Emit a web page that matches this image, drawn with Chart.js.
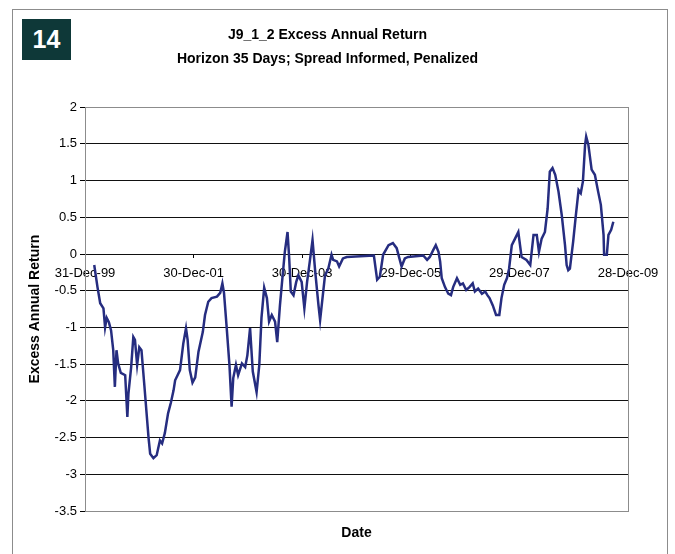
<!DOCTYPE html>
<html>
<head>
<meta charset="utf-8">
<script src="https://cdn.jsdelivr.net/npm/chart.js@4.4.1/dist/chart.umd.min.js"></script>
<style>
    body { margin:0; background:#fff; }
    #marco { position:absolute; left:12px; top:9px; width:654px; height:560px; border:1px solid #8c8c8c; }
    #caja { position:absolute; left:0; top:0; width:675px; height:554px; }
    #num { position:absolute; left:22px; top:19px; width:49px; height:41px; background:#0e3838; color:#fff;
           font:bold 25px "Liberation Sans", Arial, sans-serif; display:flex; align-items:center; justify-content:center; }
</style>
</head>
<body>
<div id="marco"></div>
<div id="caja"><canvas id="grafico" width="675" height="554"></canvas></div>
<div id="num">14</div>
<script>
// anios desde 31-Dec-99
const fechas = [0.17,0.23,0.28,0.34,0.37,0.40,0.44,0.48,0.52,0.55,
    0.58,0.61,0.66,0.74,0.78,0.80,0.85,0.89,0.92,0.96,
    1.00,1.04,1.09,1.17,1.20,1.26,1.32,1.38,1.42,1.47,
    1.53,1.58,1.63,1.66,1.75,1.81,1.86,1.89,1.93,1.98,
    2.03,2.09,2.17,2.21,2.27,2.33,2.43,2.49,2.53,2.56,
    2.61,2.66,2.70,2.73,2.78,2.82,2.89,2.95,2.99,3.04,
    3.09,3.16,3.21,3.25,3.30,3.35,3.39,3.44,3.50,3.54,
    3.59,3.64,3.68,3.73,3.76,3.79,3.84,3.89,3.93,3.99,
    4.04,4.09,4.14,4.19,4.24,4.30,4.33,4.38,4.42,4.48,
    4.54,4.57,4.64,4.68,4.75,4.82,5.32,5.38,5.43,5.49,
    5.59,5.67,5.74,5.79,5.83,5.89,5.95,6.23,6.30,6.35,
    6.41,6.46,6.51,6.54,6.57,6.63,6.69,6.74,6.78,6.85,
    6.91,6.96,7.02,7.08,7.14,7.18,7.24,7.31,7.37,7.41,
    7.45,7.51,7.57,7.63,7.67,7.72,7.77,7.81,7.86,7.92,
    7.98,8.04,8.13,8.20,8.26,8.32,8.36,8.41,8.47,8.52,
    8.56,8.61,8.66,8.72,8.78,8.84,8.87,8.90,8.93,8.99,
    9.04,9.09,9.13,9.17,9.21,9.23,9.27,9.33,9.39,9.45,
    9.50,9.55,9.56,9.61,9.64,9.69,9.73]

const valores = [-0.15,-0.45,-0.67,-0.74,-1.00,-0.87,-0.93,-1.04,-1.31,-1.81,
    -1.31,-1.49,-1.62,-1.65,-2.22,-1.90,-1.54,-1.13,-1.17,-1.51,
    -1.27,-1.31,-1.76,-2.50,-2.72,-2.78,-2.74,-2.54,-2.58,-2.44,
    -2.17,-2.03,-1.86,-1.72,-1.58,-1.22,-1.01,-1.17,-1.58,-1.75,
    -1.68,-1.33,-1.06,-0.83,-0.65,-0.60,-0.58,-0.53,-0.40,-0.53,
    -1.01,-1.51,-2.08,-1.69,-1.51,-1.65,-1.49,-1.54,-1.38,-1.01,
    -1.60,-1.88,-1.51,-0.87,-0.46,-0.60,-0.92,-0.83,-0.92,-1.20,
    -0.70,-0.29,0.03,0.30,-0.05,-0.51,-0.56,-0.38,-0.29,-0.38,
    -0.74,-0.38,-0.10,0.19,-0.24,-0.70,-0.90,-0.56,-0.29,-0.20,
    -0.01,-0.08,-0.10,-0.17,-0.06,-0.04,-0.02,-0.35,-0.31,-0.01,
    0.12,0.15,0.08,-0.06,-0.17,-0.06,-0.04,-0.02,-0.08,-0.04,
    0.05,0.12,0.03,-0.10,-0.33,-0.45,-0.54,-0.56,-0.45,-0.33,
    -0.42,-0.40,-0.49,-0.45,-0.40,-0.51,-0.47,-0.54,-0.51,-0.56,
    -0.60,-0.70,-0.83,-0.83,-0.60,-0.42,-0.33,-0.20,0.12,0.21,
    0.30,-0.04,-0.08,-0.15,0.26,0.26,0.03,0.21,0.30,0.62,
    1.12,1.17,1.08,0.85,0.53,0.12,-0.15,-0.22,-0.20,0.17,
    0.53,0.87,0.83,0.99,1.49,1.60,1.49,1.15,1.08,0.85,
    0.67,0.26,-0.01,-0.01,0.26,0.33,0.44]

const etiquetasX = ['31-Dec-99','30-Dec-01','30-Dec-03','29-Dec-05','29-Dec-07','28-Dec-09']

const titulo = ['J9_1_2 Excess Annual Return', 'Horizon 35 Days; Spread Informed, Penalized']

Chart.defaults.font.family = '"Liberation Sans", Arial, sans-serif'
Chart.defaults.color = '#000'

// borde gris del area del grafico
const bordePlot = {
    id: 'bordePlot',
    beforeDatasetsDraw(chart) {
        const {ctx, chartArea: a} = chart
        ctx.save()
        ctx.strokeStyle = '#8c8c8c'
        ctx.lineWidth = 1
        ctx.strokeRect(Math.round(a.left) + 0.5, Math.round(a.top) + 0.5, Math.round(a.right - a.left), Math.round(a.bottom - a.top))
        ctx.restore()
    }
}

const ctx = document.getElementById('grafico').getContext('2d')

const data = {
    datasets: [{
        label: 'Excess Annual Return',
        data: fechas.map((f, i) => ({x: f, y: valores[i]})),
        borderColor: '#262d80',
        borderWidth: 2.5,
        pointRadius: 0,
        tension: 0,
        xAxisID: 'x',
        yAxisID: 'y'
    }]
}

const options = {
    responsive: false,
    animation: false,
    layout: { padding: {top: 10, left: 27, right: 47, bottom: 12} },
    plugins: {
        legend: {display: false},
        tooltip: {enabled: false},
        title: {
            display: true,
            text: titulo,
            font: {size: 14, weight: 'bold', lineHeight: 1.65},
            padding: {top: 14, bottom: 37}
        }
    },
    scales: {
        x: {
            type: 'linear',
            position: 'bottom',
            min: 0, max: 10,
            ticks: {display: false},
            grid: {display: false, drawTicks: false},
            border: {display: false},
            title: {display: true, text: 'Date', font: {size: 14, weight: 'bold'}, padding: {top: 16, bottom: 0}},
            afterFit: s => { s.height = 31 }
        },
        x0: {
            type: 'linear',
            position: {y: 0},
            min: 0, max: 10,
            afterBuildTicks: s => { s.ticks = etiquetasX.map((e, i) => ({value: i * 2})) },
            ticks: {
                font: {size: 13},
                padding: 8,
                maxRotation: 0,
                autoSkip: false,
                callback: v => etiquetasX[v / 2]
            },
            grid: {drawOnChartArea: false, drawTicks: true, tickLength: 4, color: '#000'},
            border: {display: false},
            afterFit: s => { s.height = 0 }
        },
        y: {
            min: -3.5, max: 2,
            ticks: {stepSize: 0.5, font: {size: 13}, padding: 3, callback: v => String(v)},
            grid: {
                color: c => (c.tick && (c.tick.value === 2 || c.tick.value === -3.5)) ? '#8c8c8c' : '#111',
                tickColor: '#000',
                tickLength: 5
            },
            border: {color: '#8c8c8c'},
            title: {display: true, text: 'Excess Annual Return', font: {size: 14, weight: 'bold'}, padding: {top: 0, bottom: 12}},
            afterFit: s => { s.width = 58 }
        }
    }
}

const mychar = new Chart(ctx, { type: 'line', data, options, plugins: [bordePlot] })
</script>
</body>
</html>
